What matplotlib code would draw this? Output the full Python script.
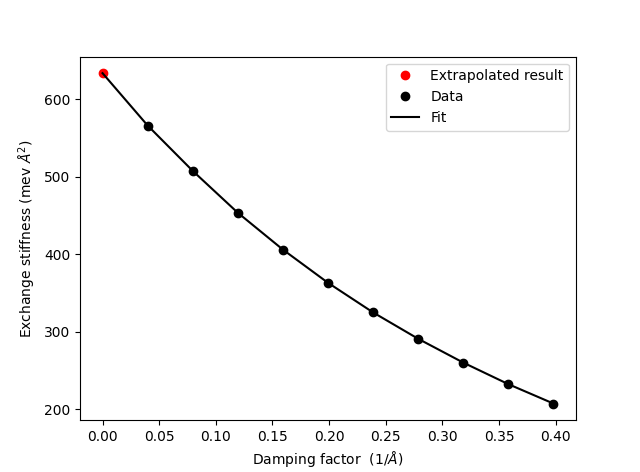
import matplotlib
matplotlib.use("Agg")
import matplotlib.pyplot as plt
import numpy as np

# Data
damping = [0.0398, 0.0796, 0.1194, 0.1592, 0.1990, 0.2388, 0.2786, 0.3184, 0.3582, 0.3980]
stiffness = [566.0, 507.5, 453.5, 406.0, 363.2, 325.0, 291.0, 260.3, 232.5, 207.5]
extrap_x = [0.0]
extrap_y = [633.5]

fig, ax = plt.subplots(figsize=(6.4, 4.72), dpi=100)

ax.plot(extrap_x, extrap_y, 'o', color='red', label='Extrapolated result')
ax.plot(damping, stiffness, 'o', color='black', label='Data')
fit_x = extrap_x + damping
fit_y = extrap_y + stiffness
ax.plot(fit_x, fit_y, '-', color='black', label='Fit')

ax.set_xlabel(r'Damping factor  (1/$\AA$)')
ax.set_ylabel(r'Exchange stiffness (mev $\AA^2$)')
ax.legend(loc='upper right')

fig.savefig('out.png', dpi=100)
